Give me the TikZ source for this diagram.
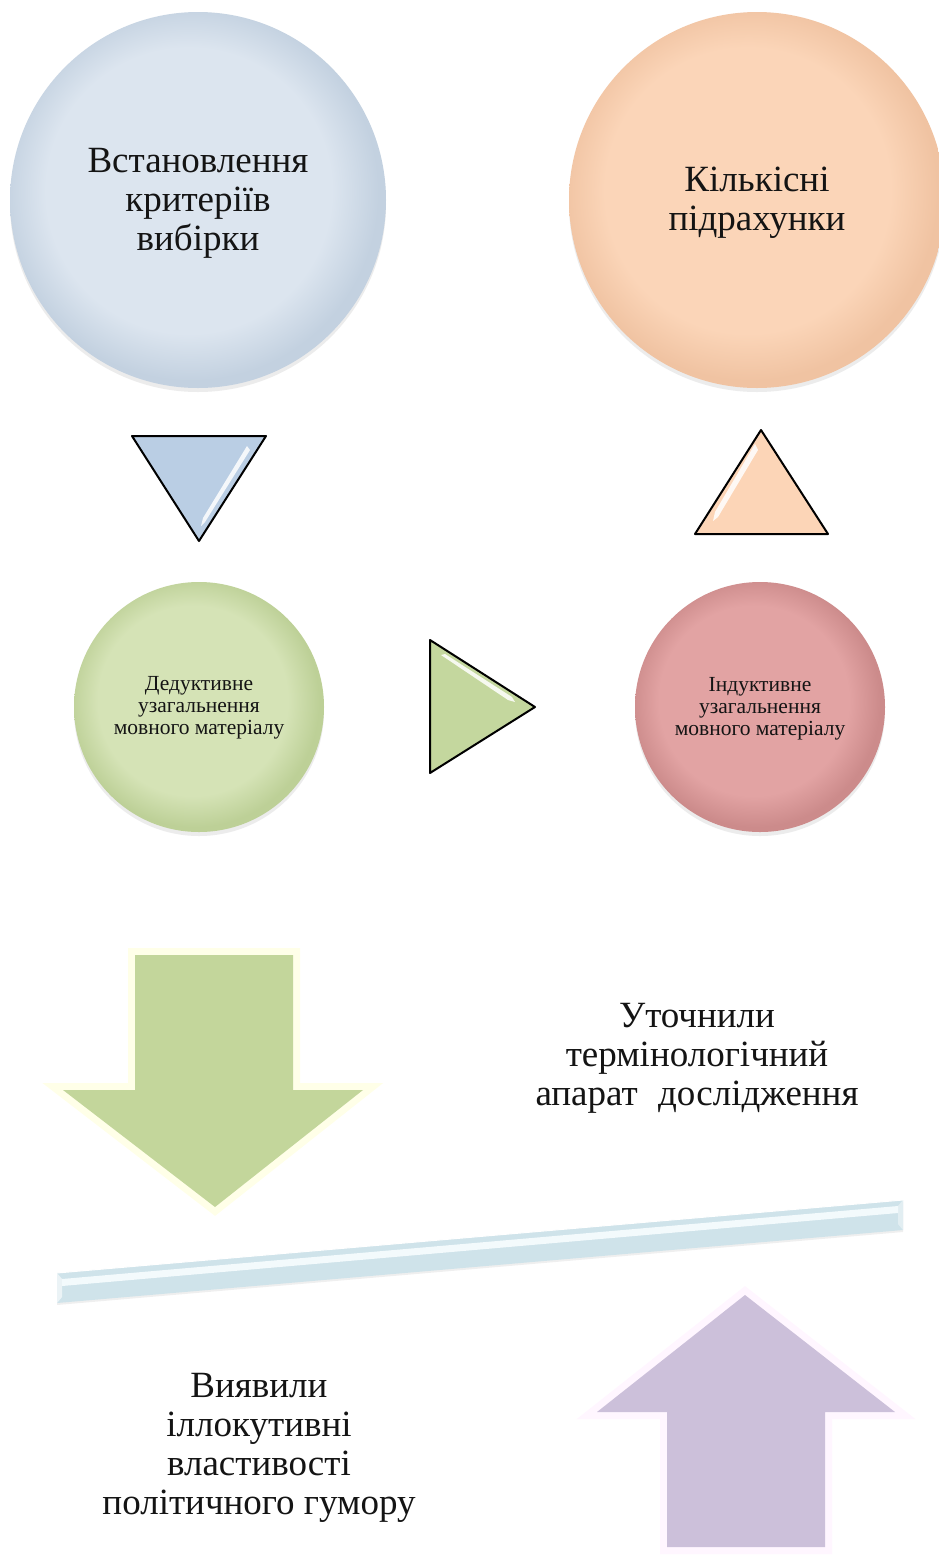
\documentclass[tikz,border=0pt]{standalone}
\usepackage{fontspec}
\setmainfont{Liberation Serif}
\usetikzlibrary{shadows}
\definecolor{bcA}{HTML}{DCE5EF}\definecolor{bcB}{HTML}{C3D1E0}
\definecolor{pcA}{HTML}{FBD5B8}\definecolor{pcB}{HTML}{F0C3A2}
\definecolor{gcA}{HTML}{D5E3B6}\definecolor{gcB}{HTML}{BDD097}
\definecolor{rcA}{HTML}{E2A3A3}\definecolor{rcB}{HTML}{CC8B8B}
\definecolor{triblue}{HTML}{BACEE4}
\definecolor{tripeach}{HTML}{FCD5B7}
\definecolor{trigreen}{HTML}{C4D79E}
\definecolor{arrgreen}{HTML}{C3D69B}
\definecolor{arrpurple}{HTML}{CCC0DA}
\definecolor{creamedge}{HTML}{FFFFE8}
\definecolor{pinkedge}{HTML}{FFF6FF}
\definecolor{barblue}{HTML}{CFE3EA}
\definecolor{barlight}{HTML}{F3FAFC}
\definecolor{txt}{HTML}{141414}
\pgfdeclareradialshading{bluecirc}{\pgfpoint{-2bp}{2bp}}{color(0bp)=(bcA); color(19bp)=(bcA); color(25bp)=(bcB); color(50bp)=(bcB)}
\pgfdeclareradialshading{peachcirc}{\pgfpoint{-2bp}{2bp}}{color(0bp)=(pcA); color(19bp)=(pcA); color(25bp)=(pcB); color(50bp)=(pcB)}
\pgfdeclareradialshading{greencirc}{\pgfpoint{-2bp}{2bp}}{color(0bp)=(gcA); color(19bp)=(gcA); color(25bp)=(gcB); color(50bp)=(gcB)}
\pgfdeclareradialshading{redcirc}{\pgfpoint{-2bp}{2bp}}{color(0bp)=(rcA); color(19bp)=(rcA); color(25bp)=(rcB); color(50bp)=(rcB)}
\tikzset{
  bigcirc/.style={circle, inner sep=0pt, minimum size=376pt, shade, drop shadow={shadow xshift=0pt, shadow yshift=-4pt, opacity=0.15}},
  smallcirc/.style={circle, inner sep=0pt, minimum size=250pt, shade, drop shadow={shadow xshift=0pt, shadow yshift=-4pt, opacity=0.15}},
  bigtext/.style={align=center, text=txt, font=\fontsize{37}{39}\selectfont},
  smalltext/.style={align=center, text=txt, font=\fontsize{21.5}{22}\selectfont},
  tri/.style={draw=black, line width=2pt, line join=round},
  gloss/.style={fill=white, opacity=0.85},
  arrowedge/.style={line width=14pt, line join=miter, drop shadow={shadow xshift=3pt, shadow yshift=-3pt, opacity=0.25}},
}
\begin{document}
\begin{tikzpicture}[x=1pt,y=-1pt]
\useasboundingbox (0,0) rectangle (939,1556);
\fill[white] (0,0) rectangle (939,1556);
\clip (0,0) rectangle (939,1556);
% big circles
\node[bigcirc, shading=bluecirc] (c1) at (198,200) {};
\node[bigcirc, shading=peachcirc] (c2) at (757,200) {};
\node[bigtext] (t1) at (198,203) {Встановлення\\критеріїв\\вибірки};
\node[bigtext] (t2) at (757,203) {Кількісні\\підрахунки};
% small circles
\node[smallcirc, shading=greencirc] (c3) at (199,707) {};
\node[smallcirc, shading=redcirc] (c4) at (760,707) {};
\node[smalltext] (t3) at (199,708) {Дедуктивне\\узагальнення\\мовного матеріалу};
\node[smalltext] (t4) at (760,709) {Індуктивне\\узагальнення\\мовного матеріалу};
% triangles
\fill[triblue, tri] (132,436) -- (266,436) -- (199,541) -- cycle;
\fill[gloss] (247,446) -- (250,450) -- (205,522) -- (201,526) -- (203,518) -- cycle;
\fill[tripeach, tri] (761,430) -- (828,534) -- (695,534) -- cycle;
\fill[gloss] (755,444) -- (758,450) -- (718,517) -- (713,521) -- (715,512) -- cycle;
\fill[trigreen, tri] (430,640) -- (535,707) -- (430,773) -- cycle;
\fill[gloss] (441,655) -- (445,654) -- (512,697) -- (515,702) -- (508,700) -- cycle;
% green down arrow
\path[draw=creamedge, fill=creamedge, arrowedge] (135,955) -- (293,955) -- (293,1090) -- (363,1090) -- (215,1207) -- (63,1090) -- (135,1090) -- cycle;
\fill[arrgreen] (135,955) -- (293,955) -- (293,1090) -- (363,1090) -- (215,1207) -- (63,1090) -- (135,1090) -- cycle;
% bar
\fill[barblue, drop shadow={shadow xshift=0pt, shadow yshift=-2pt, opacity=0.12}] (57,1273) -- (903,1200) -- (903,1230) -- (57,1303) -- cycle;
\fill[barlight] (62,1279) -- (898,1206) -- (898,1213) -- (62,1286) -- cycle;
\draw[white, line width=1pt] (57,1273) -- (903,1200);
\fill[white, opacity=0.6] (57,1273) -- (62,1279) -- (62,1297) -- (57,1303) -- cycle;
\fill[white, opacity=0.4] (903,1200) -- (898,1206) -- (898,1224) -- (903,1230) -- cycle;
% purple up arrow
\path[draw=pinkedge, fill=pinkedge, arrowedge] (745,1295) -- (895,1412) -- (825,1412) -- (825,1547) -- (667,1547) -- (667,1412) -- (597,1412) -- cycle;
\fill[arrpurple] (745,1295) -- (895,1412) -- (825,1412) -- (825,1547) -- (667,1547) -- (667,1412) -- (597,1412) -- cycle;
% free texts
\node[bigtext] (t5) at (697,1058) {Уточнили\\термінологічний\\апарат\hspace{0.3em} дослідження};
\node[bigtext] (t6) at (259,1448) {Виявили\\іллокутивні\\властивості\\політичного гумору};
\end{tikzpicture}
\end{document}
